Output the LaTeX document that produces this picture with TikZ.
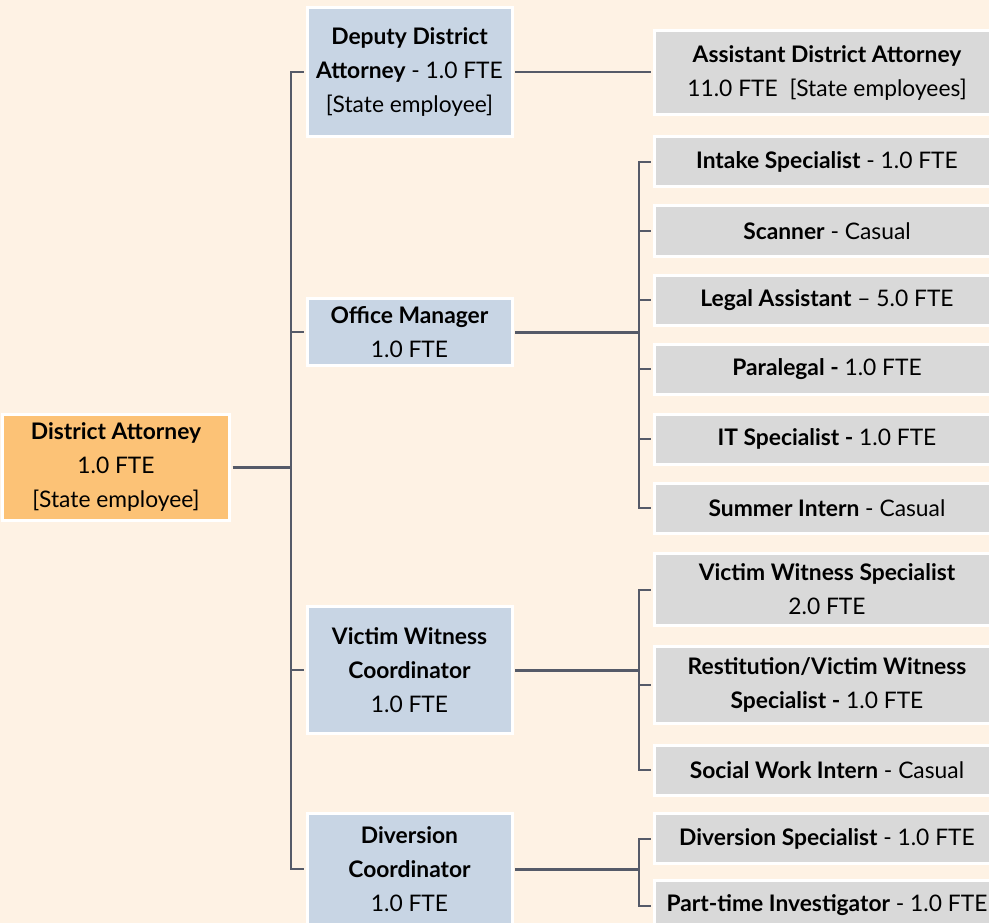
\documentclass[tikz,border=0pt]{standalone}
\usepackage{fontspec}
\setmainfont{Lato}
\usetikzlibrary{positioning}
\definecolor{bgcream}{RGB}{254,242,228}
\definecolor{daorange}{RGB}{252,194,118}
\definecolor{midblue}{RGB}{200,213,228}
\definecolor{boxgray}{RGB}{217,217,217}
\definecolor{linegray}{RGB}{85,90,104}

\begin{document}
\begin{tikzpicture}[x=1pt,y=-1pt,
	box/.style={draw=white, line width=3pt, align=center, inner sep=0pt, font=\fontsize{22.8}{34}\selectfont},
	topbox/.style={box, fill=daorange, minimum width=227pt, minimum height=106pt},
	midbox/.style={box, fill=midblue, minimum width=205pt},
	lowbox/.style={box, fill=boxgray, minimum width=346pt},
	thinlink/.style={draw=linegray, line width=2pt},
	thicklink/.style={draw=linegray, line width=3pt}]
	\fill[bgcream] (0,0) rectangle (989,923);
	\useasboundingbox (0,0) rectangle (989,923);

	% top and middle level
	\node[topbox] (da) at (116,467) {\textbf{District Attorney}\\1.0 FTE\\{[}State employee{]}};
	\node[midbox, minimum height=129pt] (dep) at (409.5,72) {\textbf{Deputy District}\\\textbf{Attorney} - 1.0 FTE\\{[}State employee{]}};
	\node[midbox, minimum height=67pt] (om) at (409.5,332) {\textbf{Office Manager}\\1.0 FTE};
	\node[midbox, minimum height=127pt] (vwc) at (409.5,670) {\textbf{Victim Witness}\\\textbf{Coordinator}\\1.0 FTE};
	\node[midbox, minimum height=112pt] (dc) at (409.5,869) {\textbf{Diversion}\\\textbf{Coordinator}\\1.0 FTE};

	% staff
	\node[lowbox, minimum height=84pt] (ada) at (827,73) {\textbf{Assistant District Attorney}\\11.0 FTE\ \ {[}State employees{]}};
	\node[lowbox, minimum height=50pt] (intake) at (827,162) {\textbf{Intake Specialist} - 1.0 FTE};
	\node[lowbox, minimum height=50pt] (scan) at (827,231) {\textbf{Scanner} - Casual};
	\node[lowbox, minimum height=50pt] (legal) at (827,300) {\textbf{Legal Assistant} -- 5.0 FTE};
	\node[lowbox, minimum height=50pt] (para) at (827,369) {\textbf{Paralegal -} 1.0 FTE};
	\node[lowbox, minimum height=50pt] (it) at (827,439) {\textbf{IT Specialist -} 1.0 FTE};
	\node[lowbox, minimum height=50pt] (intern) at (827,508) {\textbf{Summer Intern} - Casual};
	\node[lowbox, minimum height=72pt] (vws) at (827,589.5) {\textbf{Victim Witness Specialist}\\2.0 FTE};
	\node[lowbox, minimum height=77pt] (rest) at (827,685) {\textbf{Restitution/Victim Witness}\\\textbf{Specialist -} 1.0 FTE};
	\node[lowbox, minimum height=50pt] (social) at (827,770) {\textbf{Social Work Intern} - Casual};
	\node[lowbox, minimum height=50pt] (divs) at (827,838.5) {\textbf{Diversion Specialist} - 1.0 FTE};
	\node[lowbox, minimum height=50pt] (invest) at (827,905.5) {\textbf{Part-time Investigator} - 1.0 FTE};

	% connectors
	\coordinate (hub) at (291,467);
	\draw[thicklink, shorten <=1.5pt] (da.east) -- (hub);
	\foreach \n in {dep,om,vwc,dc}
		\draw[thinlink, shorten >=1.5pt] (hub) |- (\n.west);
	\draw[thinlink, shorten <=1.5pt, shorten >=1.5pt] (dep.east) -- (dep.east -| ada.west);

	\coordinate (omhub) at (639,332);
	\draw[thicklink, shorten <=1.5pt] (om.east) -- (omhub);
	\foreach \n in {intake,scan,legal,para,it,intern}
		\draw[thinlink, shorten >=1.5pt] (omhub) |- (\n.west);

	\coordinate (vwhub) at (639,670);
	\draw[thicklink, shorten <=1.5pt] (vwc.east) -- (vwhub);
	\foreach \n in {vws,rest,social}
		\draw[thinlink, shorten >=1.5pt] (vwhub) |- (\n.west);

	\coordinate (dchub) at (639,869);
	\draw[thicklink, shorten <=1.5pt] (dc.east) -- (dchub);
	\foreach \n in {divs,invest}
		\draw[thinlink, shorten >=1.5pt] (dchub) |- (\n.west);
\end{tikzpicture}
\end{document}
